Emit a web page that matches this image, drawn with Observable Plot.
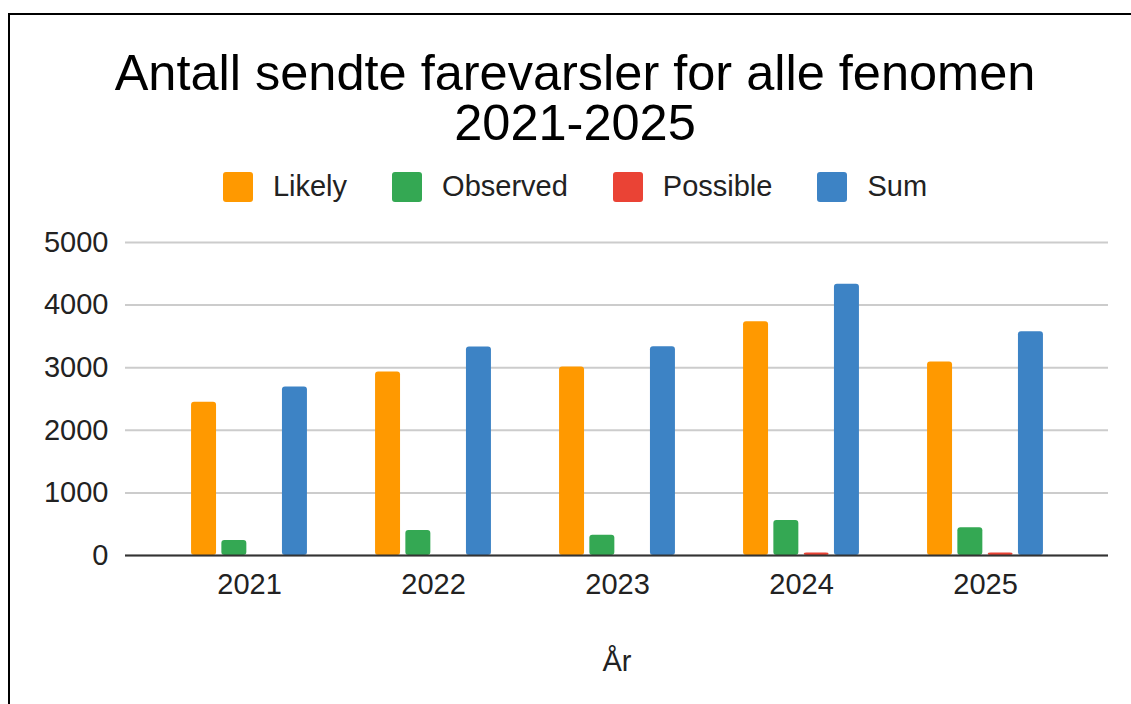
<!DOCTYPE html>
<html>
<head>
<meta charset="utf-8">
<script src="https://cdn.jsdelivr.net/npm/d3@7"></script>
<script src="https://cdn.jsdelivr.net/npm/@observablehq/plot@0.6"></script>
<style>
  html, body { margin: 0; padding: 0; background: #fff; overflow: hidden; }
  body { width: 1131px; height: 704px; position: relative; font-family: "Liberation Sans", Arial, sans-serif; }
  #frame { position: absolute; left: 8px; top: 13px; width: 1130px; height: 720px; border: 2px solid #000; box-sizing: border-box; }
  .title { position: absolute; left: 8px; width: 1134px; text-align: center; font-size: 50.5px; line-height: 50px; height: 50px; color: #000; white-space: nowrap; }
  #legend { position: absolute; left: 8px; width: 1134px; top: 171px; display: flex; justify-content: center; align-items: center; font-size: 29px; line-height: 30px; color: #222; }
  .item { display: flex; align-items: center; margin: 0 22.5px; }
  .sw { width: 30px; height: 30px; border-radius: 3px; margin-right: 20px; position: relative; top: 1px; }
  #chart { position: absolute; left: 0; top: 215px; }
</style>
</head>
<body>
<div id="frame"></div>
<div class="title" style="top:48px">Antall sendte farevarsler for alle fenomen</div>
<div class="title" style="top:98px">2021-2025</div>
<div id="legend"></div>
<div id="chart"></div>
<script>
const years = ["2021", "2022", "2023", "2024", "2025"];
const likely = [2450, 2930, 3010, 3735, 3090];
const observed = [240, 400, 325, 560, 445];
const possible = [0, 0, 0, 40, 40];
const sum = [2690, 3330, 3335, 4335, 3575];
const seriesNames = ["Likely", "Observed", "Possible", "Sum"];
const seriesColors = ["#ff9900", "#34a853", "#ea4335", "#3d83c5"];
const yTicks = [0, 1000, 2000, 3000, 4000, 5000];

const seriesValues = [likely, observed, possible, sum];

// legend
const legend = document.getElementById("legend");
seriesNames.forEach((name, i) => {
  const it = document.createElement("div");
  it.className = "item";
  const sw = document.createElement("div");
  sw.className = "sw";
  sw.style.background = seriesColors[i];
  it.appendChild(sw);
  const t = document.createElement("span");
  t.textContent = name;
  it.appendChild(t);
  legend.appendChild(it);
});

// layout constants
const width = 1131, height = 489;
const marginLeft = 125, marginRight = 23, marginTop = 27, marginBottom = 149;
const bandStep = (width - marginLeft - marginRight) / (years.length + 2 * 0.171);
const barWidth = 25, barStep = 30.3;

const barMarks = seriesNames.map((name, i) => {
  const data = years.map((y, j) => ({year: y, value: seriesValues[i][j]})).filter(d => d.value > 0);
  const c = (i - (seriesNames.length - 1) / 2) * barStep;
  return Plot.barY(data, {
    x: "year",
    y: "value",
    fill: seriesColors[i],
    insetLeft: bandStep / 2 + c - barWidth / 2,
    insetRight: bandStep / 2 - c - barWidth / 2,
    rx: 3
  });
});

const chart = Plot.plot({
  width, height, marginLeft, marginRight, marginTop, marginBottom,
  style: {fontFamily: "'Liberation Sans', Arial, sans-serif", fontSize: "29px", color: "#222", background: "transparent"},
  x: {type: "band", domain: years, paddingInner: 0, paddingOuter: 0.171},
  y: {domain: [0, 5000]},
  marks: [
    Plot.gridY(yTicks, {stroke: "#cccccc", strokeOpacity: 1, strokeWidth: 2}),
    Plot.axisY(yTicks, {tickSize: 0, tickPadding: 17, label: null, fill: "#222", tickFormat: d => String(d)}),
    Plot.axisX({tickSize: 0, tickPadding: 18, label: "År", labelAnchor: "center", labelOffset: 115, fill: "#222"}),
    ...barMarks,
    Plot.ruleY([0], {stroke: "#333", strokeWidth: 2})
  ]
});
document.getElementById("chart").appendChild(chart);
</script>
</body>
</html>
